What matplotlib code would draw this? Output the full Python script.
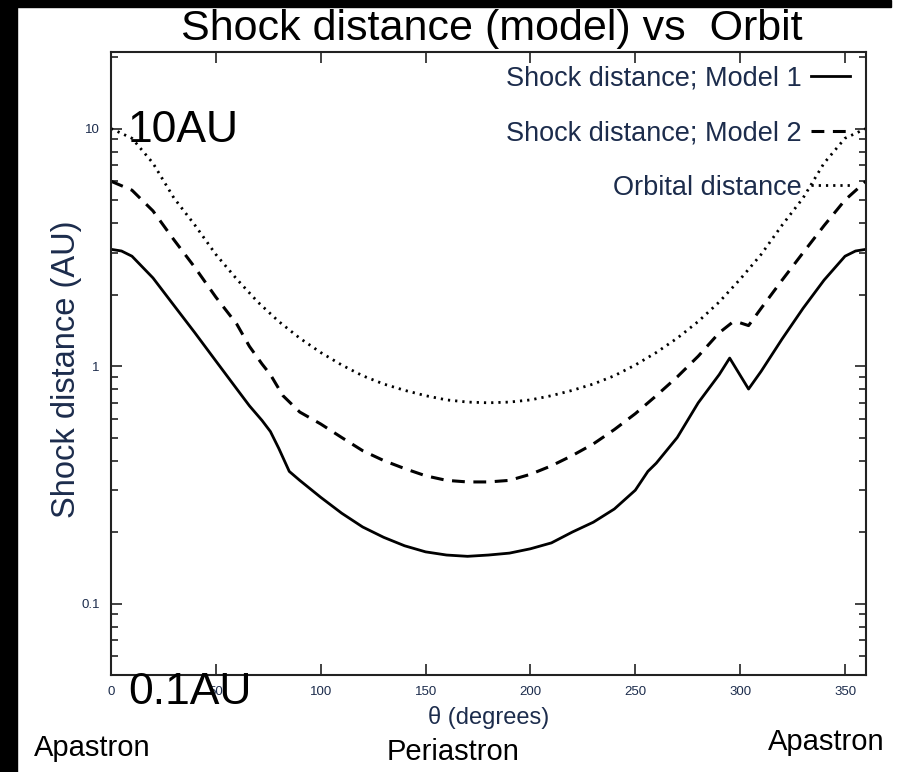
import numpy as np
import matplotlib
matplotlib.use('Agg')
import matplotlib.pyplot as plt
from matplotlib.patches import Rectangle
from matplotlib.ticker import LogLocator, FixedLocator, NullFormatter

plt.rcParams['font.family'] = ['Liberation Sans', 'DejaVu Sans']

# theta (degrees) sample points and read-off values (AU)
theta_m1 = [0, 5, 10, 20, 30, 40, 50, 60, 66, 72, 76, 80, 85, 90, 100, 110, 120, 130, 140,
            150, 160, 170, 180, 190, 200, 210, 220, 230, 240, 250, 256, 260, 270, 280, 290,
            295, 304, 310, 320, 330, 340, 350, 355, 360]
model1 = [3.1, 3.05, 2.9, 2.35, 1.8, 1.38, 1.05, 0.8, 0.68, 0.59, 0.53, 0.45, 0.36, 0.33,
          0.28, 0.24, 0.21, 0.19, 0.175, 0.165, 0.16, 0.158, 0.16, 0.163, 0.17, 0.18, 0.2,
          0.22, 0.25, 0.3, 0.36, 0.39, 0.5, 0.7, 0.92, 1.08, 0.8, 0.95, 1.3, 1.75, 2.3, 2.9,
          3.05, 3.1]

theta_m2 = [0, 10, 20, 30, 40, 50, 60, 66, 72, 76, 82, 90, 100, 110, 120, 130, 140, 150,
            160, 170, 180, 190, 200, 210, 220, 230, 240, 250, 260, 270, 280, 290, 296, 300,
            304, 310, 320, 330, 340, 350, 360]
model2 = [6.0, 5.5, 4.5, 3.4, 2.6, 1.95, 1.5, 1.21, 1.02, 0.92, 0.75, 0.64, 0.57, 0.5,
          0.44, 0.4, 0.37, 0.345, 0.33, 0.325, 0.325, 0.33, 0.35, 0.38, 0.42, 0.47, 0.54,
          0.63, 0.75, 0.9, 1.1, 1.38, 1.52, 1.52, 1.48, 1.75, 2.3, 3.0, 3.9, 5.0, 6.0]

theta_orb = [0, 10, 20, 30, 40, 50, 60, 70, 80, 90, 100, 110, 120, 130, 140, 150, 160, 170,
             180, 190, 200, 210, 220, 230, 240, 250, 260, 270, 280, 290, 300, 310, 320, 330,
             340, 350, 360]
orbital = [10.0, 9.1, 7.15, 5.1, 3.92, 2.95, 2.32, 1.86, 1.54, 1.31, 1.14, 1.01, 0.91,
           0.84, 0.79, 0.75, 0.72, 0.705, 0.70, 0.705, 0.72, 0.75, 0.79, 0.84, 0.91, 1.01,
           1.14, 1.31, 1.54, 1.86, 2.32, 2.95, 3.92, 5.1, 7.15, 9.1, 10.0]

labels = ['Shock distance; Model 1', 'Shock distance; Model 2', 'Orbital distance']
xticks = [0, 50, 100, 150, 200, 250, 300, 350]

fig = plt.figure(figsize=(9.08, 7.72), dpi=100)
ax = fig.add_axes([111 / 908, 1 - 675 / 772, 755 / 908, 623 / 772])

ax.plot(theta_m1, model1, color='black', lw=2.0, label=labels[0])
ax.plot(theta_m2, model2, color='black', lw=2.2, dashes=(4.2, 2.8), label=labels[1])
ax.plot(theta_orb, orbital, color='black', lw=2.0, dashes=(0.8, 1.8), label=labels[2])

ax.set_yscale('log')
ax.set_xlim(0, 360)
ax.set_ylim(0.05, 21)

ax.xaxis.set_major_locator(FixedLocator(xticks))
ax.set_xticklabels([str(t) for t in xticks])
ax.yaxis.set_major_locator(FixedLocator([0.1, 1, 10]))
ax.set_yticklabels(['0.1', '1', '10'])
ax.yaxis.set_minor_locator(LogLocator(base=10, subs=np.arange(2, 10)))
ax.yaxis.set_minor_formatter(NullFormatter())

ax.tick_params(which='both', direction='in', top=True, right=True, colors='#222222',
               labelcolor='#1c2c4c', labelsize=9.5, width=1.2)
ax.tick_params(which='major', length=8, pad=8)
ax.tick_params(which='minor', length=5)
for s in ax.spines.values():
    s.set_linewidth(1.5)
    s.set_color('#222222')

ax.set_ylabel('Shock distance (AU)', fontsize=23.5, color='#1c2c4c')
ax.yaxis.set_label_coords(-0.038, 0.49)
ax.set_xlabel('θ (degrees)', fontsize=17, color='#1c2c4c', labelpad=6)

leg = ax.legend(loc='upper right', bbox_to_anchor=(0.979, 0.978), frameon=False,
                markerfirst=False, fontsize=19.5, handlelength=1.45, labelspacing=1.05,
                handletextpad=0.35, borderpad=0, borderaxespad=0)
for t in leg.get_texts():
    t.set_color('#1c2c4c')

fig.text(492 / 908, 1 - 29 / 772, 'Shock distance (model) vs  Orbit', ha='center',
         va='center', fontsize=31, color='black')
fig.text(128 / 908, 1 - 130 / 772, '10AU', ha='left', va='center', fontsize=32)
fig.text(128 / 908, 1 - 692 / 772, '0.1AU', ha='left', va='center', fontsize=32)
fig.text(92 / 908, 1 - 748 / 772, 'Apastron', ha='center', va='center', fontsize=21)
fig.text(453 / 908, 1 - 752 / 772, 'Periastron', ha='center', va='center', fontsize=21)
fig.text(826 / 908, 1 - 742 / 772, 'Apastron', ha='center', va='center', fontsize=21)

fig.patches.append(Rectangle((0, 0), 17 / 908, 1, transform=fig.transFigure,
                             color='black', zorder=10))
fig.patches.append(Rectangle((0, 1 - 7 / 772), 891 / 908, 7 / 772, transform=fig.transFigure,
                             color='black', zorder=10))

fig.savefig('out.png', dpi=100)
